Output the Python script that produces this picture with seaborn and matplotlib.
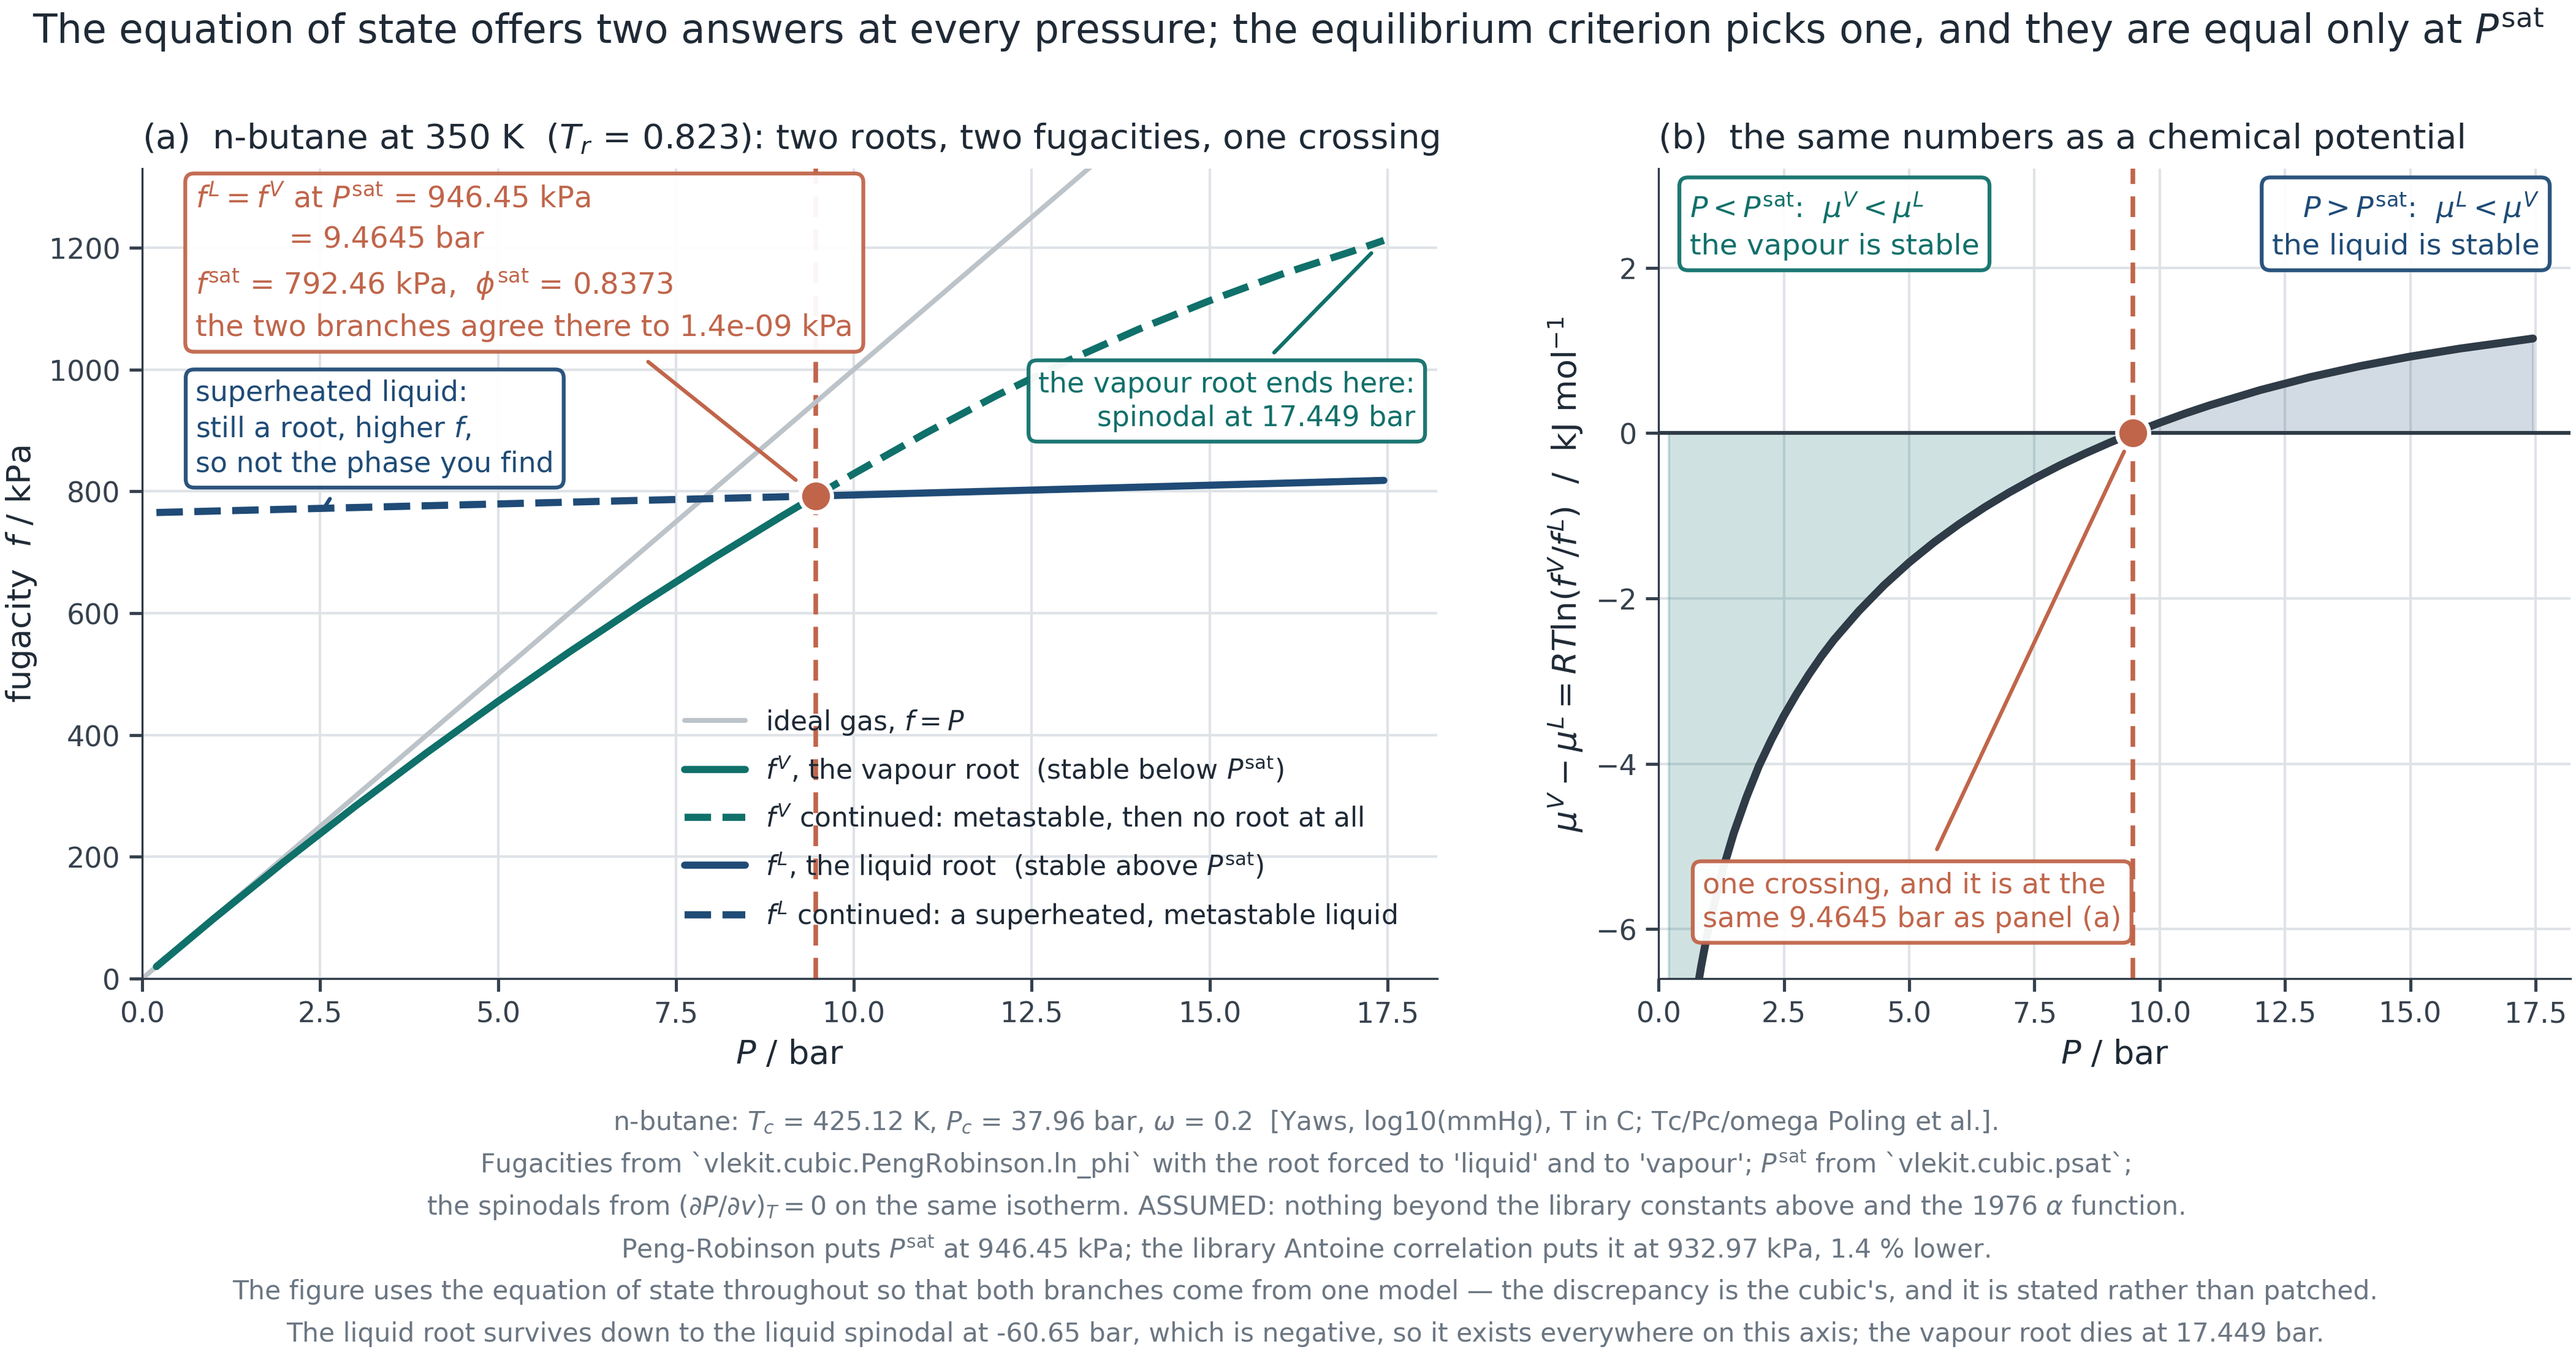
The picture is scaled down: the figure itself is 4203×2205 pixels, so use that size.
import matplotlib.pyplot as plt
import pandas as pd
import seaborn as sns

# ---- values ----
P_SAT = 9.4645      # bar
F_SAT = 792.46      # kPa
P_SPIN = 17.449     # bar

p_ideal = [0.0, 17.449]
f_ideal = [0.0, 1744.9]

p_vap = [0.2, 1, 2, 3, 4, 5, 6, 7, 8, 9, 9.4645]
f_vap = [19.9, 98.1, 192.6, 283.6, 371.1, 455.2, 536.1, 613.8, 688.5, 760.1, 792.46]

p_vap_meta = [9.4645, 10, 11, 12, 13, 14, 15, 16, 17, 17.449]
f_vap_meta = [792.46, 829, 895, 957, 1014, 1066, 1113, 1156, 1194, 1212]

p_liq = [9.4645, 11, 13, 15, 17.449]
f_liq = [792.46, 797.3, 803.7, 810.1, 818.0]

p_liq_meta = [0.2, 2, 4, 6, 8, 9.4645]
f_liq_meta = [765.3, 770.6, 776.4, 782.3, 788.1, 792.46]

p_mu = [0.2, 0.3, 0.4, 0.5, 0.6, 0.7, 0.77, 0.85, 0.9, 1.0, 1.1, 1.25, 1.5, 1.75, 2.0,
        2.25, 2.5, 2.75, 3.0, 3.25, 3.5, 4.0, 4.5, 5.0, 5.5, 6.0, 6.5, 7.0, 7.5, 8.0,
        8.5, 9.0, 9.4645, 10, 10.5, 11, 12, 13, 14, 15, 16, 17, 17.449]
dmu = [-10.62, -9.45, -8.61, -7.97, -7.45, -7.00, -6.74, -6.45, -6.29, -5.98, -5.72,
       -5.35, -4.84, -4.41, -4.03, -3.71, -3.42, -3.16, -2.92, -2.70, -2.50, -2.15,
       -1.84, -1.565, -1.32, -1.10, -0.90, -0.717, -0.549, -0.393, -0.250, -0.116, 0.0,
       0.125, 0.235, 0.336, 0.519, 0.676, 0.810, 0.925, 1.023, 1.106, 1.144]

footer_lines = [
    r"n-butane: $T_c$ = 425.12 K, $P_c$ = 37.96 bar, $\omega$ = 0.2  [Yaws, log10(mmHg), T in C; Tc/Pc/omega Poling et al.].",
    r"Fugacities from `vlekit.cubic.PengRobinson.ln_phi` with the root forced to 'liquid' and to 'vapour'; $P^{\rm sat}$ from `vlekit.cubic.psat`;",
    r"the spinodals from $(\partial P/\partial v)_T = 0$ on the same isotherm. ASSUMED: nothing beyond the library constants above and the 1976 $\alpha$ function.",
    r"Peng-Robinson puts $P^{\rm sat}$ at 946.45 kPa; the library Antoine correlation puts it at 932.97 kPa, 1.4 % lower.",
    "The figure uses the equation of state throughout so that both branches come from one model \u2014 the discrepancy is the cubic's, and it is stated rather than patched.",
    "The liquid root survives down to the liquid spinodal at -60.65 bar, which is negative, so it exists everywhere on this axis; the vapour root dies at 17.449 bar.",
]

# ---- colours ----
TEAL = "#10706a"
NAVY = "#1f4b76"
ORANGE = "#c0654a"
IDEAL = "#bcc3c9"
DARK = "#2f3b47"
TXT = "#1f2a36"
TICK = "#36414d"
GRID = "#dfe3e7"
FOOT = "#6b7682"

sns.set_style("ticks", rc={
    "axes.edgecolor": DARK,
    "axes.linewidth": 1.4,
    "xtick.color": TICK,
    "ytick.color": TICK,
    "axes.labelcolor": TXT,
    "text.color": TXT,
})
plt.rcParams["font.family"] = ["DejaVu Sans"]
plt.rcParams["xtick.labelsize"] = 11
plt.rcParams["ytick.labelsize"] = 11
plt.rcParams["xtick.major.size"] = 5
plt.rcParams["ytick.major.size"] = 5
plt.rcParams["xtick.major.width"] = 1.2
plt.rcParams["ytick.major.width"] = 1.2

fig, (ax1, ax2) = plt.subplots(
    1, 2, figsize=(14.01, 7.353), gridspec_kw={"width_ratios": [2113, 1488]}
)
fig.subplots_adjust(left=0.0552, right=0.9979, bottom=0.276, top=0.875, wspace=0.2005)

# ---------------- panel (a) ----------------
sns.lineplot(x=p_ideal, y=f_ideal, ax=ax1, color=IDEAL, lw=1.9, label=r"ideal gas, $f = P$")
sns.lineplot(x=p_vap, y=f_vap, ax=ax1, color=TEAL, lw=2.8,
             label=r"$f^V$, the vapour root  (stable below $P^{\rm sat}$)")
sns.lineplot(x=p_vap_meta, y=f_vap_meta, ax=ax1, color=TEAL, lw=2.8, linestyle="--",
             label=r"$f^V$ continued: metastable, then no root at all")
sns.lineplot(x=p_liq, y=f_liq, ax=ax1, color=NAVY, lw=2.8,
             label=r"$f^L$, the liquid root  (stable above $P^{\rm sat}$)")
sns.lineplot(x=p_liq_meta, y=f_liq_meta, ax=ax1, color=NAVY, lw=2.8, linestyle="--",
             label=r"$f^L$ continued: a superheated, metastable liquid")

ax1.axvline(P_SAT, color=ORANGE, lw=1.8, linestyle=(0, (4.5, 2.7)), zorder=1.5)
ax1.plot([P_SAT], [F_SAT], "o", color=ORANGE, ms=12.5, mec="white", mew=1.6, zorder=6)

ax1.set_xlim(0, 18.2)
ax1.set_ylim(0, 1330)
ax1.set_xticks([0, 2.5, 5, 7.5, 10, 12.5, 15, 17.5])
ax1.set_yticks([0, 200, 400, 600, 800, 1000, 1200])
ax1.grid(True, color=GRID, lw=1.0, zorder=0)
ax1.set_axisbelow(True)
ax1.set_xlabel(r"$P$ / bar", fontsize=13)
ax1.set_ylabel(r"fugacity  $f$ / kPa", fontsize=13)
ax1.set_title(r"(a)  n-butane at 350 K  ($T_r$ = 0.823): two roots, two fugacities, one crossing",
              loc="left", fontsize=13.5, pad=8)

box_kw = dict(boxstyle="round,pad=0.35,rounding_size=0.3", fc="white", alpha=0.95, lw=1.5)

ax1.annotate(
    "$f^L = f^V$ at $P^{\\rm sat}$ = 946.45 kPa\n          = 9.4645 bar\n"
    "$f^{\\rm sat}$ = 792.46 kPa,  $\\phi^{\\rm sat}$ = 0.8373\n"
    "the two branches agree there to 1.4e-09 kPa",
    xy=(P_SAT, F_SAT), xytext=(0.75, 1305), ha="left", va="top", fontsize=11.5,
    linespacing=1.5, color=ORANGE, bbox=dict(ec=ORANGE, **box_kw), zorder=7,
    arrowprops=dict(arrowstyle="-", color=ORANGE, lw=1.5, shrinkA=6, shrinkB=10),
)
ax1.annotate(
    "superheated liquid:\nstill a root, higher $f$,\nso not the phase you find",
    xy=(2.55, 771.6), xytext=(0.75, 984), ha="left", va="top", fontsize=11,
    linespacing=1.3, color=NAVY, bbox=dict(ec=NAVY, **box_kw), zorder=7,
    arrowprops=dict(arrowstyle="-", color=NAVY, lw=1.5, shrinkA=5, shrinkB=0),
)
ax1.annotate(
    "the vapour root ends here:\nspinodal at 17.449 bar",
    xy=(P_SPIN, 1212), xytext=(17.89, 999), ha="right", va="top", multialignment="right",
    fontsize=11, linespacing=1.3, color=TEAL, bbox=dict(ec=TEAL, **box_kw), zorder=7,
    arrowprops=dict(arrowstyle="-", color=TEAL, lw=1.5, shrinkA=4, shrinkB=7),
)

leg = ax1.legend(loc="lower left", bbox_to_anchor=(0.4, 0.029), frameon=False,
                 fontsize=10.6, handlelength=2.25, handletextpad=0.75, labelspacing=0.62)
for t in leg.get_texts():
    t.set_color(TXT)

# ---------------- panel (b) ----------------
ax2.fill_between(p_mu, dmu, 0, where=[d <= 0 for d in dmu], interpolate=True,
                 color=TEAL, alpha=0.2, zorder=1)
ax2.fill_between(p_mu, dmu, 0, where=[d >= 0 for d in dmu], interpolate=True,
                 color=NAVY, alpha=0.2, zorder=1)
ax2.axhline(0, color=DARK, lw=1.5, zorder=2)
sns.lineplot(x=p_mu, y=dmu, ax=ax2, color=DARK, lw=3.1, zorder=3)
ax2.axvline(P_SAT, color=ORANGE, lw=1.8, linestyle=(0, (4.5, 2.7)), zorder=2.5)
ax2.plot([P_SAT], [0], "o", color=ORANGE, ms=12.5, mec="white", mew=1.6, zorder=6)

ax2.set_xlim(0, 18.2)
ax2.set_ylim(-6.6, 3.2)
ax2.set_xticks([0, 2.5, 5, 7.5, 10, 12.5, 15, 17.5])
ax2.set_yticks([-6, -4, -2, 0, 2])
ax2.grid(True, color=GRID, lw=1.0, zorder=0)
ax2.set_axisbelow(True)
ax2.set_xlabel(r"$P$ / bar", fontsize=13)
ax2.set_ylabel(r"$\mu^V - \mu^L = RT\ln(f^V/f^L)$  /  kJ mol$^{-1}$", fontsize=13)
ax2.set_title("(b)  the same numbers as a chemical potential", loc="left", fontsize=13.5, pad=8)

ax2.text(0.034, 0.974, "$P < P^{\\rm sat}$:  $\\mu^V < \\mu^L$\nthe vapour is stable",
         transform=ax2.transAxes, ha="left", va="top", fontsize=11.4, linespacing=1.35,
         color=TEAL, bbox=dict(ec=TEAL, **box_kw), zorder=7)
ax2.text(0.966, 0.974, "$P > P^{\\rm sat}$:  $\\mu^L < \\mu^V$\nthe liquid is stable",
         transform=ax2.transAxes, ha="right", va="top", multialignment="right",
         fontsize=11.4, linespacing=1.35, color=NAVY, bbox=dict(ec=NAVY, **box_kw), zorder=7)
ax2.annotate(
    "one crossing, and it is at the\nsame 9.4645 bar as panel (a)",
    xy=(P_SAT, 0), xytext=(0.88, -5.30), ha="left", va="top", fontsize=11.1,
    linespacing=1.3, color=ORANGE, bbox=dict(ec=ORANGE, **box_kw), zorder=7,
    arrowprops=dict(arrowstyle="-", color=ORANGE, lw=1.5, shrinkA=5, shrinkB=8),
)

for ax in (ax1, ax2):
    sns.despine(ax=ax)

fig.suptitle(
    r"The equation of state offers two answers at every pressure; the equilibrium criterion "
    r"picks one, and they are equal only at $P^{\rm sat}$",
    fontsize=15.5, y=0.978, va="center", color=TXT,
)

y = 0.170
for line in footer_lines:
    fig.text(0.5067, y, line, ha="center", va="center", fontsize=10.2, color=FOOT)
    y -= 0.0313

fig.savefig("out.png", dpi=300)
plt.close()
